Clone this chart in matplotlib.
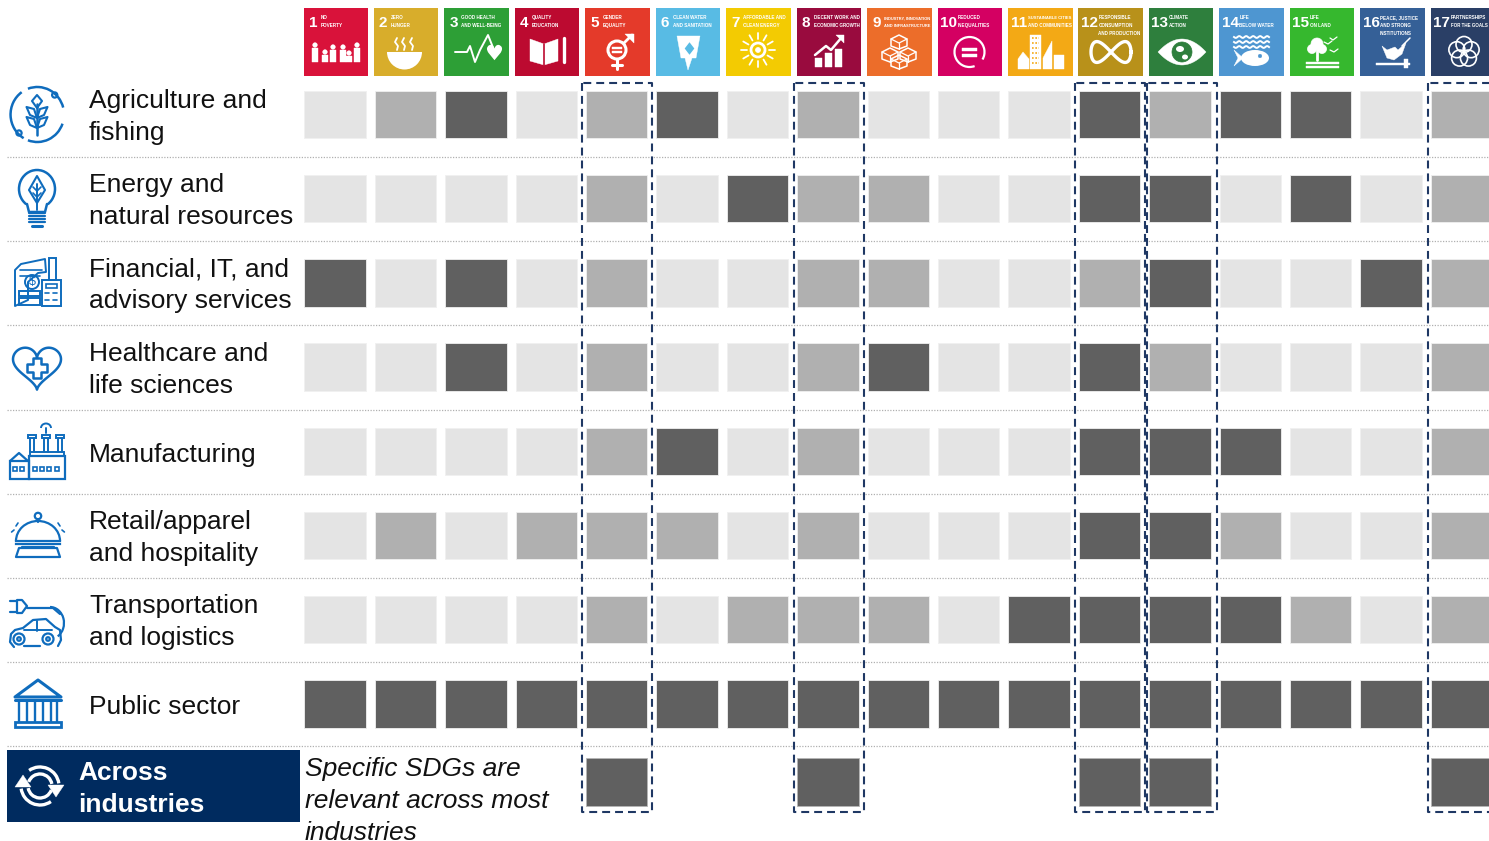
import matplotlib
matplotlib.use('Agg')
import matplotlib.pyplot as plt
import numpy as np
from matplotlib.patches import Rectangle, Circle, Polygon, Wedge, Ellipse, Arc

plt.rcParams['font.family'] = ['Liberation Sans', 'DejaVu Sans']

industries = ['Agriculture and\nfishing', 'Energy and\nnatural resources',
              'Financial, IT, and\nadvisory services', 'Healthcare and\nlife sciences',
              'Manufacturing', 'Retail/apparel\nand hospitality',
              'Transportation\nand logistics', 'Public sector']

# 0 = low, 1 = medium, 2 = high relevance; one row per industry, one column per SDG
agriculture   = [0, 1, 2, 0, 1, 2, 0, 1, 0, 0, 0, 2, 1, 2, 2, 0, 1]
energy        = [0, 0, 0, 0, 1, 0, 2, 1, 1, 0, 0, 2, 2, 0, 2, 0, 1]
financial     = [2, 0, 2, 0, 1, 0, 0, 1, 1, 0, 0, 1, 2, 0, 0, 2, 1]
healthcare    = [0, 0, 2, 0, 1, 0, 0, 1, 2, 0, 0, 2, 1, 0, 0, 0, 1]
manufacturing = [0, 0, 0, 0, 1, 2, 0, 1, 0, 0, 0, 2, 2, 2, 0, 0, 1]
retail        = [0, 1, 0, 1, 1, 1, 0, 1, 0, 0, 0, 2, 2, 1, 0, 0, 1]
transport     = [0, 0, 0, 0, 1, 0, 1, 1, 1, 0, 2, 2, 2, 2, 1, 0, 1]
public        = [2] * 17
grid = [agriculture, energy, financial, healthcare, manufacturing, retail, transport, public]

across_sdgs = [5, 8, 12, 13, 17]

sdg_titles = ['NO\nPOVERTY', 'ZERO\nHUNGER', 'GOOD HEALTH\nAND WELL-BEING', 'QUALITY\nEDUCATION',
              'GENDER\nEQUALITY', 'CLEAN WATER\nAND SANITATION', 'AFFORDABLE AND\nCLEAN ENERGY',
              'DECENT WORK AND\nECONOMIC GROWTH', 'INDUSTRY, INNOVATION\nAND INFRASTRUCTURE',
              'REDUCED\nINEQUALITIES', 'SUSTAINABLE CITIES\nAND COMMUNITIES',
              'RESPONSIBLE\nCONSUMPTION\nAND PRODUCTION', 'CLIMATE\nACTION', 'LIFE\nBELOW WATER',
              'LIFE\nON LAND', 'PEACE, JUSTICE\nAND STRONG\nINSTITUTIONS', 'PARTNERSHIPS\nFOR THE GOALS']
sdg_colors = ['#d9123a', '#d8ad2b', '#2d9f36', '#bc0a30', '#e43a2a', '#58bbe4', '#f3cb02', '#990b3e',
              '#ec6d2a', '#d40062', '#f3a915', '#b8911a', '#2e7f3d', '#4e96d1', '#36b82e', '#356097',
              '#2a3f66']
level_colors = ['#e4e4e4', '#b0b0b0', '#606060']

BLUE = '#0f6cbd'
NAVY = '#1f3864'
W = 'white'
FS = 19

# one axes in pixel units, y pointing down
fig = plt.figure(figsize=(14.89, 8.41), dpi=100)
ax = fig.add_axes([0, 0, 1, 1])
ax.set_xlim(0, 1489)
ax.set_ylim(841, 0)
ax.axis('off')
renderer = fig.canvas.get_renderer()

COL0, COLP = 304.3, 70.4
ROW0, ROWP = 90.7, 84.2
CW, CH = 61.5, 47.5
ROW9 = 758.3
box_left = {5: 582, 8: 794, 12: 1074.5, 13: 1146.8, 17: 1428}


def line(xs, ys, c=BLUE, lw=1.6, **kw):
    ax.plot(xs, ys, color=c, lw=lw, solid_capstyle='round', solid_joinstyle='round', **kw)


def circ(x, y, r, c=BLUE, lw=1.6, fill=False):
    ax.add_patch(Circle((x, y), r, fill=fill, fc=c if fill else 'none', ec=c, lw=lw))


def rect(x, y, w, h, c=BLUE, lw=1.6, fill=False):
    ax.add_patch(Rectangle((x, y), w, h, fill=fill, fc=c if fill else 'none', ec=c, lw=lw))


def poly(pts, c=BLUE, lw=1.6, fill=False, closed=True):
    ax.add_patch(Polygon(pts, closed=closed, fill=fill, fc=c if fill else 'none', ec=c, lw=lw,
                         joinstyle='round'))


def arc(x, y, w, h, a, b, c=BLUE, lw=1.6):
    ax.add_patch(Arc((x, y), w, h, theta1=a, theta2=b, color=c, lw=lw))


# ---- SDG tiles
for i, (title, col) in enumerate(zip(sdg_titles, sdg_colors)):
    x0 = 303.5 + i * 70.45
    w = min(64.5, 1489 - x0)
    ax.add_patch(Rectangle((x0, 8), w, 68, fc=col, ec='none'))
    num = str(i + 1)
    ax.text(x0 + (5 if i < 9 else 2.5), 27, num, color=W, fontsize=11, fontweight='bold',
            ha='left', va='baseline')
    tx = x0 + (17 if i < 9 else 20)
    room = x0 + 64 - tx
    room = min(room, 1488 - tx)
    for j, part in enumerate(title.split('\n')):
        t = ax.text(tx, 19 + j * 8, part, color=W, fontsize=3.3, fontweight='bold',
                    ha='left', va='baseline')
        tw = t.get_window_extent(renderer).width
        if tw > room:
            t.set_fontsize(3.3 * room / tw)


def tile_icons():
    # 1 people
    for x, h in [(315, 19), (325, 12), (333, 17), (343, 17), (349, 11), (357, 19)]:
        top = 62 - h
        circ(x, top + 2, 2.2, W, 0.5, True)
        rect(x - 3, top + 5, 6, h - 5, W, 0.3, True)
    # 2 bowl
    ax.add_patch(Wedge((404.5, 52), 17.5, 0, 180, fc=W, ec='none'))
    rect(399, 65, 11, 2.5, W, 0.3, True)
    for x in (397, 404, 412):
        line([x, x - 2, x + 1, x], [38, 42, 46, 50], W, 1.3)
    # 3 heartbeat
    line([455, 467, 470, 475, 480, 488, 494], [52, 52, 46, 62, 50, 35, 50], W, 1.4)
    ax.plot([493.5], [52], marker='$\u2665$', ms=11, color=W, mew=0)
    # 4 book
    poly([(530, 39), (544, 44), (558, 39), (558, 61), (544, 65), (530, 61)], W, 0.3, True)
    line([544, 544], [44, 65], '#bc0a30', 1.2)
    line([564, 564], [38, 62], W, 2.4)
    # 5 gender
    circ(617, 50, 9, W, 2.2)
    line([624, 632], [43, 35], W, 2)
    poly([(625, 34), (634, 34), (634, 43)], W, 0.3, True)
    line([617, 617], [59, 69], W, 2.2)
    line([612, 622], [65, 65], W, 2.2)
    rect(612, 47, 10, 2, W, 0.3, True)
    rect(612, 51, 10, 2, W, 0.3, True)
    # 6 water
    poly([(677, 36), (700, 36), (696, 58), (692, 58), (688, 70), (685, 58), (681, 58)], W, 0.3, True)
    ax.plot([688.5], [48], marker='$\u2666$', ms=9, color='#58bbe4', mew=0)
    # 7 sun
    circ(758, 50, 7, W, 2)
    circ(758, 50, 2.5, W, 0.5, True)
    for a in np.arange(0, 360, 30):
        r = np.deg2rad(a)
        line([758 + 11 * np.cos(r), 758 + 17 * np.cos(r)],
             [50 + 11 * np.sin(r), 50 + 17 * np.sin(r)], W, 1.3)
    # 8 growth
    for x, t in [(815, 58), (825, 53), (835, 49)]:
        rect(x, t, 7, 67 - t, W, 0.3, True)
    line([815, 826, 831, 842], [55, 46, 50, 37], W, 1.8)
    poly([(836, 35), (844, 35), (844, 43)], W, 0.3, True)
    # 9 cubes
    for cx, cy in [(899, 42), (890, 55), (908, 55), (899, 62)]:
        poly([(cx, cy - 7), (cx + 8, cy - 3), (cx + 8, cy + 4), (cx, cy + 7), (cx - 8, cy + 4),
              (cx - 8, cy - 3)], W, 1.1)
        line([cx - 8, cx, cx + 8], [cy - 3, cy + 1, cy - 3], W, 0.9)
        line([cx, cx], [cy + 1, cy + 7], W, 0.9)
    # 10 equal
    arc(969.5, 52, 30, 30, -290, 30, W, 1.6)
    rect(962, 47.5, 15, 3, W, 0.3, True)
    rect(962, 53.5, 15, 3, W, 0.3, True)
    # 11 city
    poly([(1018, 69), (1018, 59), (1023, 52), (1029, 59), (1029, 69)], W, 0.3, True)
    rect(1030, 35, 11, 34, W, 0.3, True)
    poly([(1043, 69), (1043, 58), (1052, 41), (1052, 69)], W, 0.3, True)
    rect(1054, 55, 10, 14, W, 0.3, True)
    for yy in np.arange(38, 66, 5):
        line([1032, 1039], [yy, yy], '#f3a915', 1.2, ls=(0, (1, 1)))
    # 12 infinity
    t = np.linspace(0, 2 * np.pi, 80)
    ax.plot(1111 + 20 * np.cos(t), 52 + 22 * np.sin(t) * np.cos(t) * 0.95, color=W, lw=2.4)
    # 13 eye
    t = np.linspace(-1, 1, 40)
    poly(list(zip(1182 + 24 * t, 52 - 13 * (1 - t ** 2))) + list(zip(1182 - 24 * t, 52 + 13 * (1 - t ** 2))),
         W, 0.3, True)
    circ(1182, 52, 10, '#2e7f3d', 0.5, True)
    ax.add_patch(Ellipse((1180, 49), 8, 6, fc=W, ec='none'))
    ax.add_patch(Ellipse((1185, 57), 6, 5, fc=W, ec='none'))
    # 14 water
    t = np.linspace(1234, 1269, 60)
    for yy in (37, 42, 47):
        ax.plot(t, yy + 0.9 * np.sin((t - 1234) * 0.9), color=W, lw=1.4)
    ax.add_patch(Ellipse((1255, 58), 28, 16, fc=W, ec='none'))
    poly([(1234, 50), (1243, 58), (1234, 66), (1238, 58)], W, 0.3, True)
    circ(1260, 56, 1.8, '#4e96d1', 0.3, True)
    # 15 land
    circ(1317, 44, 6, W, 0.5, True)
    circ(1312, 49, 4.5, W, 0.5, True)
    circ(1322, 49, 4.5, W, 0.5, True)
    line([1317, 1317], [50, 60], W, 2)
    rect(1306, 62, 33, 1.5, W, 0.3, True)
    rect(1306, 66, 33, 1.5, W, 0.3, True)
    line([1324, 1328, 1332], [42, 44, 41], W, 0.9)
    line([1330, 1333, 1337], [38, 40, 37], W, 0.9)
    line([1330, 1334, 1338], [50, 52, 49], W, 0.9)
    # 16 peace
    poly([(1382, 46), (1387, 50), (1395, 47), (1398, 50), (1406, 43), (1402, 54), (1394, 60), (1387, 58)],
         W, 0.3, True)
    line([1402, 1410], [46, 38], W, 1.1)
    rect(1376, 63, 34, 2, W, 0.3, True)
    rect(1404, 59, 4, 9, W, 0.3, True)
    # 17 partnerships
    for a in (90, 162, 234, 306, 18):
        r = np.deg2rad(a)
        circ(1464 + 7.5 * np.cos(r), 52 - 7.5 * np.sin(r), 8, W, 1.2)


tile_icons()

# ---- relevance cells
for r, row in enumerate(grid):
    for c, v in enumerate(row):
        ax.add_patch(Rectangle((COL0 + c * COLP, ROW0 + r * ROWP), CW, CH,
                               fc=level_colors[v], ec='#f0f0f0', lw=0.6))
for s in across_sdgs:
    ax.add_patch(Rectangle((COL0 + (s - 1) * COLP, ROW9), CW, CH, fc=level_colors[2],
                           ec='#b5b5b5', lw=0.6))

# ---- dotted row rules
for r in range(len(grid)):
    y = 157 + r * 84.2
    ax.plot([7, 1489], [y, y], color='#b0b0b0', lw=0.9, ls=(0, (1, 1.2)))

# ---- dashed SDG boxes, the last one runs off the right edge
for s in across_sdgs:
    xl = box_left[s]
    xr = xl + 70.3
    ax.plot([xl, xl, xr, xr, xl], [83, 811.5, 811.5, 83, 83], color=NAVY, lw=1.5,
            ls=(0, (3.8, 2.4)), zorder=5)

# ---- industry labels
for r, name in enumerate(industries):
    base = 108 + r * 84.2
    if '\n' in name:
        a, b = name.split('\n')
        ax.text(89, base, a, fontsize=FS, color='#111111', ha='left', va='baseline')
        ax.text(89, base + 32, b, fontsize=FS, color='#111111', ha='left', va='baseline')
    else:
        ax.text(89, base + 17, name, fontsize=FS, color='#111111', ha='left', va='baseline')

# ---- across industries band
ax.add_patch(Rectangle((7, 750), 293, 72, fc='#002b5f', ec='none'))
ax.text(78, 780, 'Across', fontsize=FS, fontweight='bold', color=W, ha='left', va='baseline')
ax.text(78, 812, 'industries', fontsize=FS, fontweight='bold', color=W, ha='left', va='baseline')
for k, note in enumerate(['Specific SDGs are', 'relevant across most', 'industries']):
    ax.text(305, 776 + k * 32, note, fontsize=FS, style='italic', color='#111111', ha='left', va='baseline')

# recycle arrows
arc(40, 786, 38, 38, 235, 352, W, 2.4)
arc(40, 786, 38, 38, 55, 172, W, 2.4)
arc(40, 786, 24, 24, 200, 350, W, 2.4)
arc(40, 786, 24, 24, 20, 170, W, 2.4)
poly([(48, 785), (64, 785), (56, 797)], W, 0.3, True)
poly([(15, 787), (31, 787), (23, 775)], W, 0.3, True)

# ---- industry icons
# agriculture
arc(37.3, 114.5, 53.5, 55, 20, 110, BLUE, 1.8)
arc(37.3, 114.5, 53.5, 55, 120, 235, BLUE, 1.8)
arc(37.3, 114.5, 53.5, 55, 250, 345, BLUE, 1.8)
circ(54.7, 95, 2.6)
circ(19, 133, 2.6)
line([37, 37], [104, 135], BLUE, 1.8)
for yy in (112, 122):
    poly([(37, yy + 6), (30, yy + 3), (26.5, yy - 5), (34, yy - 3)], BLUE, 1.5)
    poly([(37, yy + 6), (44, yy + 3), (47.5, yy - 5), (40, yy - 3)], BLUE, 1.5)
poly([(37, 95), (32, 101), (37, 108), (42, 101)], BLUE, 1.5)
# energy
arc(37, 189, 36, 38, -235, 55, BLUE, 1.8)
line([27, 29, 45, 47], [204, 212, 212, 204], BLUE, 1.8)
for yy in (213, 216, 219, 222):
    line([29, 45], [yy, yy], BLUE, 1.6)
line([32, 42], [226, 226], BLUE, 2.2)
poly([(37, 176), (45, 190), (37, 203), (29, 190)], BLUE, 1.5)
line([37, 37], [184, 210], BLUE, 1.4)
line([33, 37, 41], [187, 191, 187], BLUE, 1.2)
line([33, 37, 41], [193, 197, 193], BLUE, 1.2)
# financial
poly([(21, 264), (45, 259), (46, 272), (38, 273), (28, 282), (28, 300), (15, 306), (15, 270)], BLUE, 1.4)
line([20, 42], [270, 270], BLUE, 1.2)
line([20, 40], [276, 276], BLUE, 1.2)
rect(49, 258, 7, 22, BLUE, 1.4)
circ(32, 282, 7, BLUE, 1.4)
ax.text(32, 282, '\\$', fontsize=9, color=BLUE, ha='center', va='center')
rect(19, 291, 21, 5, BLUE, 1.4)
rect(19, 298, 21, 7, BLUE, 1.4)
rect(42, 280, 19, 26, BLUE, 1.4)
rect(46, 284, 11, 4, BLUE, 1.2)
for px in (47, 55):
    line([px - 2, px + 2], [293, 293], BLUE, 1.2)
    line([px - 2, px + 2], [300, 300], BLUE, 1.2)
# healthcare
t = np.linspace(0, 2 * np.pi, 120)
hx = 37 + 1.5 * 16 * np.sin(t) ** 3
hy = 367 - 1.45 * (13 * np.cos(t) - 5 * np.cos(2 * t) - 2 * np.cos(3 * t) - np.cos(4 * t)) - 2
ax.plot(hx, hy, color=BLUE, lw=1.8)
poly([(33, 358), (41, 358), (41, 364), (47, 364), (47, 372), (41, 372), (41, 378), (33, 378), (33, 372),
      (27, 372), (27, 364), (33, 364)], BLUE, 1.8)
# manufacturing
rect(10, 461, 19, 18, BLUE, 1.6)
poly([(10, 461), (19, 453), (28, 461)], BLUE, 1.6, closed=False)
rect(29, 456, 36, 23, BLUE, 1.6)
rect(30, 452, 34, 4, BLUE, 1.4)
for px in (32, 46, 60):
    line([px - 2, px - 2], [438, 452], BLUE, 1.4)
    line([px + 2, px + 2], [438, 452], BLUE, 1.4)
    rect(px - 4, 435, 8, 3, BLUE, 1.4)
arc(46, 428, 10, 9, 180, 360, BLUE, 1.4)
line([46, 46], [428, 433], BLUE, 1.4)
for px in (13, 20, 33, 40, 47, 55):
    rect(px, 467, 4, 4, BLUE, 1.2)
# retail
circ(38, 516, 3.2)
line([38, 38], [519, 522], BLUE, 1.6)
arc(38, 541, 44, 40, 180, 360, BLUE, 1.6)
ax.plot([16, 60], [541, 541], color=BLUE, lw=1.6)
ax.plot([16, 60], [544, 544], color=BLUE, lw=1.6)
line([22, 54], [547, 547], BLUE, 1.6)
poly([(19, 548), (57, 548), (60, 557), (16, 557)], BLUE, 1.6)
for dx, y1, y2 in [(-20, 523, 526), (20, 523, 526), (-24, 530, 532), (24, 530, 532)]:
    line([38 + dx, 38 + dx * 1.1], [y1, y2], BLUE, 1.2)
# transport
line([10, 16], [601, 601], BLUE, 1.6)
line([10, 16], [612, 612], BLUE, 1.6)
poly([(17, 600), (22, 600), (27, 606), (22, 613), (17, 613)], BLUE, 1.6)
line([27, 53, 60], [608, 608, 614], BLUE, 1.6)
arc(50, 623, 28, 32, -90, 60, BLUE, 1.6)
line([14, 10, 11, 15, 23, 33, 46, 55, 60, 61, 58], [647, 642, 634, 630, 628, 620, 619, 627, 630, 640, 646], BLUE, 1.6)
line([24, 40], [646, 646], BLUE, 1.6)
circ(19, 639, 5.5)
circ(19, 639, 1.8)
circ(48, 639, 5.5)
circ(48, 639, 1.8)
line([37, 37], [621, 631], BLUE, 1.4)
line([24, 52], [630, 630], BLUE, 1.4)
# public sector
poly([(15, 697), (38, 680), (61, 697)], BLUE, 2.2)
line([15, 61], [700, 700], BLUE, 2.2)
for px in (19, 27, 35, 43, 51, 57):
    line([px, px], [701, 721], BLUE, 1.7)
rect(15, 722, 46, 5, BLUE, 2)

fig.savefig('out.png', dpi=100)
